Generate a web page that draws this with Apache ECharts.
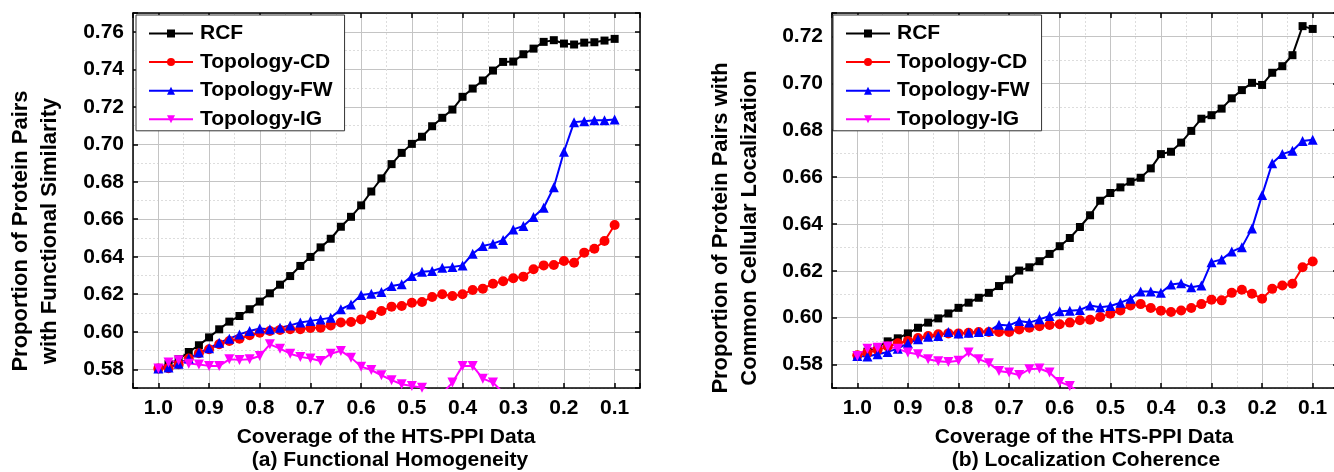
<!DOCTYPE html>
<html>
<head>
<meta charset="utf-8">
<title>RCF vs Topology</title>
<script src="https://cdn.jsdelivr.net/npm/echarts@6/dist/echarts.min.js"></script>
<style>
  html, body { margin: 0; padding: 0; background: #fff; }
  #chart { width: 1334px; height: 472px; }
</style>
</head>
<body>
<div id="chart"></div>
<script>
// coverage of the HTS-PPI data (x axis, drawn reversed)
const coverage = [1.00, 0.98, 0.96, 0.94, 0.92, 0.90, 0.88, 0.86, 0.84, 0.82,
                  0.80, 0.78, 0.76, 0.74, 0.72, 0.70, 0.68, 0.66, 0.64, 0.62,
                  0.60, 0.58, 0.56, 0.54, 0.52, 0.50, 0.48, 0.46, 0.44, 0.42,
                  0.40, 0.38, 0.36, 0.34, 0.32, 0.30, 0.28, 0.26, 0.24, 0.22,
                  0.20, 0.18, 0.16, 0.14, 0.12, 0.10];

const seriesNames = ['RCF', 'Topology-CD', 'Topology-FW', 'Topology-IG'];

// (a) Functional Homogeneity
const funcRCF = [0.5804, 0.5827, 0.5853, 0.5892, 0.5928, 0.5970, 0.6013, 0.6054, 0.6084, 0.6120,
                 0.6161, 0.6205, 0.6251, 0.6297, 0.6351, 0.6399, 0.6450, 0.6496, 0.6560, 0.6613,
                 0.6674, 0.6748, 0.6818, 0.6894, 0.6954, 0.7002, 0.7040, 0.7096, 0.7141, 0.7185,
                 0.7253, 0.7297, 0.7340, 0.7393, 0.7439, 0.7441, 0.7480, 0.7510, 0.7546, 0.7555,
                 0.7537, 0.7532, 0.7542, 0.7544, 0.7553, 0.7562];
const funcCD = [0.5804, 0.5806, 0.5827, 0.5857, 0.5885, 0.5907, 0.5933, 0.5951, 0.5963, 0.5981,
                0.5995, 0.6004, 0.6010, 0.6013, 0.6013, 0.6020, 0.6022, 0.6034, 0.6049, 0.6052,
                0.6066, 0.6088, 0.6111, 0.6134, 0.6137, 0.6155, 0.6159, 0.6185, 0.6200, 0.6191,
                0.6200, 0.6223, 0.6230, 0.6256, 0.6269, 0.6285, 0.6294, 0.6333, 0.6354, 0.6356,
                0.6377, 0.6368, 0.6422, 0.6443, 0.6484, 0.6569];
const funcFW = [0.5804, 0.5809, 0.5830, 0.5857, 0.5889, 0.5912, 0.5942, 0.5963, 0.5986, 0.6004,
                0.6017, 0.6013, 0.6022, 0.6034, 0.6049, 0.6058, 0.6066, 0.6075, 0.6120, 0.6146,
                0.6196, 0.6203, 0.6212, 0.6244, 0.6253, 0.6297, 0.6320, 0.6324, 0.6342, 0.6345,
                0.6354, 0.6416, 0.6457, 0.6470, 0.6489, 0.6546, 0.6564, 0.6612, 0.6661, 0.6771,
                0.6960, 0.7118, 0.7123, 0.7128, 0.7128, 0.7132];
// drops below the axis minimum after 0.34
const funcIG = [0.5804, 0.5836, 0.5848, 0.5830, 0.5825, 0.5818, 0.5818, 0.5853, 0.5850, 0.5853,
                0.5871, 0.5933, 0.5910, 0.5883, 0.5866, 0.5857, 0.5844, 0.5883, 0.5898, 0.5862,
                0.5814, 0.5796, 0.5768, 0.5742, 0.5720, 0.5711, 0.5702, 0.5680, 0.5670, 0.5729,
                0.5818, 0.5818, 0.5750, 0.5729, 0.5675, null, null, null, null, null,
                null, null, null, null, null, null];

// (b) Localization Coherence
const locRCF = [0.5840, 0.5855, 0.5875, 0.5899, 0.5912, 0.5933, 0.5957, 0.5979, 0.5997, 0.6018,
                0.6042, 0.6064, 0.6085, 0.6106, 0.6135, 0.6163, 0.6201, 0.6215, 0.6241, 0.6272,
                0.6305, 0.6340, 0.6387, 0.6437, 0.6499, 0.6532, 0.6556, 0.6580, 0.6597, 0.6637,
                0.6698, 0.6708, 0.6747, 0.6797, 0.6849, 0.6864, 0.6892, 0.6936, 0.6971, 0.7002,
                0.6993, 0.7045, 0.7073, 0.7120, 0.7244, 0.7232];
const locCD = [0.5840, 0.5851, 0.5862, 0.5877, 0.5891, 0.5901, 0.5913, 0.5922, 0.5929, 0.5933,
               0.5933, 0.5936, 0.5939, 0.5939, 0.5939, 0.5939, 0.5950, 0.5957, 0.5964, 0.5969,
               0.5972, 0.5979, 0.5989, 0.5991, 0.6003, 0.6017, 0.6031, 0.6052, 0.6058, 0.6041,
               0.6030, 0.6024, 0.6031, 0.6041, 0.6058, 0.6077, 0.6074, 0.6106, 0.6119, 0.6102,
               0.6081, 0.6123, 0.6137, 0.6145, 0.6215, 0.6240];
const locFW = [0.5837, 0.5834, 0.5844, 0.5854, 0.5868, 0.5891, 0.5908, 0.5919, 0.5922, 0.5939,
               0.5933, 0.5936, 0.5939, 0.5943, 0.5970, 0.5967, 0.5986, 0.5979, 0.5993, 0.6007,
               0.6027, 0.6030, 0.6033, 0.6052, 0.6045, 0.6050, 0.6064, 0.6081, 0.6112, 0.6112,
               0.6106, 0.6142, 0.6147, 0.6130, 0.6137, 0.6237, 0.6248, 0.6282, 0.6301, 0.6381,
               0.6523, 0.6659, 0.6698, 0.6712, 0.6754, 0.6759];
const locIG = [0.5837, 0.5868, 0.5872, 0.5877, 0.5868, 0.5851, 0.5844, 0.5823, 0.5814, 0.5811,
               0.5816, 0.5851, 0.5823, 0.5806, 0.5773, 0.5766, 0.5755, 0.5780, 0.5783, 0.5766,
               0.5726, 0.5709, 0.5680, null, null, null, null, null, null, null,
               null, null, null, null, null, null, null, null, null, null,
               null, null, null, null, null, null];

const FONT = 'Liberation Sans, Arial, sans-serif';
const colors = ['#000000', '#ff0000', '#0000ff', '#ff00ff'];
const symbols = ['rect', 'circle', 'triangle', 'path://M0,0 L10,0 L5,9 Z'];
const symbolSizes = [8, 10, 10, 10];

let chart = echarts.init(document.getElementById('chart'));

function xAxisPair(gi) {
    const base = {
        type: 'value', gridIndex: gi, min: 0.05, max: 1.05, inverse: true, splitNumber: 10,
        axisLine: { show: true, onZero: false, lineStyle: { color: '#000', width: 1.5 } },
        axisTick: { show: true, inside: true, length: 5, lineStyle: { color: '#000', width: 1.5 } }
    };
    return [
        Object.assign({}, base, {
            position: 'bottom',
            axisLabel: {
                margin: 10, color: '#000', fontSize: 21, fontWeight: 'bold', fontFamily: FONT,
                formatter: v => Math.abs(v * 10 - Math.round(v * 10)) < 1e-6 ? v.toFixed(1) : ''
            },
            splitLine: { show: true, lineStyle: { color: '#c4c4c4', width: 1 } },
            minorTick: { show: false, splitNumber: 2 },
            minorSplitLine: { show: true, lineStyle: { color: '#dddddd', width: 1, type: [2, 2] } }
        }),
        Object.assign({}, base, { position: 'top', axisLabel: { show: false }, splitLine: { show: false } })
    ];
}

function yAxisPair(gi, min, max, split) {
    const base = {
        type: 'value', gridIndex: gi, min: min, max: max, splitNumber: split,
        axisLine: { show: true, onZero: false, lineStyle: { color: '#000', width: 1.5 } },
        axisTick: { show: true, inside: true, length: 5, lineStyle: { color: '#000', width: 1.5 } }
    };
    return [
        Object.assign({}, base, {
            position: 'left',
            axisLabel: {
                margin: 9, color: '#000', fontSize: 21, fontWeight: 'bold', fontFamily: FONT,
                formatter: v => Math.abs(v * 50 - Math.round(v * 50)) < 1e-6 ? v.toFixed(2) : ''
            },
            splitLine: { show: true, lineStyle: { color: '#c4c4c4', width: 1 } },
            minorTick: { show: false, splitNumber: 2 },
            minorSplitLine: { show: true, lineStyle: { color: '#dddddd', width: 1, type: [2, 2] } }
        }),
        Object.assign({}, base, { position: 'right', axisLabel: { show: false }, splitLine: { show: false } })
    ];
}

function makeSeries(gi, dataList) {
    return dataList.map((vals, k) => ({
        type: 'line',
        name: seriesNames[k],
        xAxisIndex: gi * 2,
        yAxisIndex: gi * 2,
        data: coverage.map((c, i) => [c, vals[i]]),
        symbol: symbols[k],
        symbolSize: symbolSizes[k],
        showAllSymbol: true,
        connectNulls: false,
        clip: true,
        animation: false,
        lineStyle: { color: colors[k], width: 2 },
        itemStyle: { color: colors[k] }
    }));
}

function legendAt(left) {
    return {
        orient: 'vertical', left: left, top: 15,
        data: seriesNames,
        itemWidth: 44, itemHeight: 10, itemGap: 7.6,
        padding: [8, 12, 1, 12],
        backgroundColor: '#fff', borderColor: '#333', borderWidth: 1, borderRadius: 0,
        selectedMode: false,
        textStyle: {
            color: '#000', fontSize: 21, lineHeight: 20, fontWeight: 'bold', fontFamily: FONT,
            padding: [0, 0, 0, 2]
        }
    };
}

function label(x, y, text, rotate, size) {
    return {
        type: 'text', x: x, y: y, rotation: rotate ? Math.PI / 2 : 0,
        style: {
            text: text, fill: '#000', font: 'bold ' + (size || 21) + 'px ' + FONT, lineHeight: 29,
            align: 'center', verticalAlign: 'middle', textAlign: 'center', textVerticalAlign: 'middle'
        }
    };
}

const option = {
    backgroundColor: '#fff',
    animation: false,
    grid: [
        { left: 133, top: 13, width: 507, height: 375, containLabel: false, outerBoundsMode: 'none' },
        { left: 832, top: 13, width: 506, height: 375, containLabel: false, outerBoundsMode: 'none' }
    ],
    xAxis: xAxisPair(0).concat(xAxisPair(1)),
    yAxis: yAxisPair(0, 0.57, 0.77, 10).concat(yAxisPair(1, 0.57, 0.73, 8)),
    legend: [legendAt(136), legendAt(833)],
    graphic: [
        label(35, 231, 'Proportion of Protein Pairs\nwith Functional Similarity', true, 22),
        label(735, 228, 'Proportion of Protein Pairs with\nCommon Cellular Localization', true, 22),
        label(386, 437, 'Coverage of the HTS-PPI Data'),
        label(390, 460, '(a) Functional Homogeneity'),
        label(1084, 437, 'Coverage of the HTS-PPI Data'),
        label(1086, 460, '(b) Localization Coherence')
    ],
    series: makeSeries(0, [funcRCF, funcCD, funcFW, funcIG])
        .concat(makeSeries(1, [locRCF, locCD, locFW, locIG]))
};

chart.setOption(option);
window.addEventListener('resize', function () {
    chart.resize();
});
</script>
</body>
</html>
